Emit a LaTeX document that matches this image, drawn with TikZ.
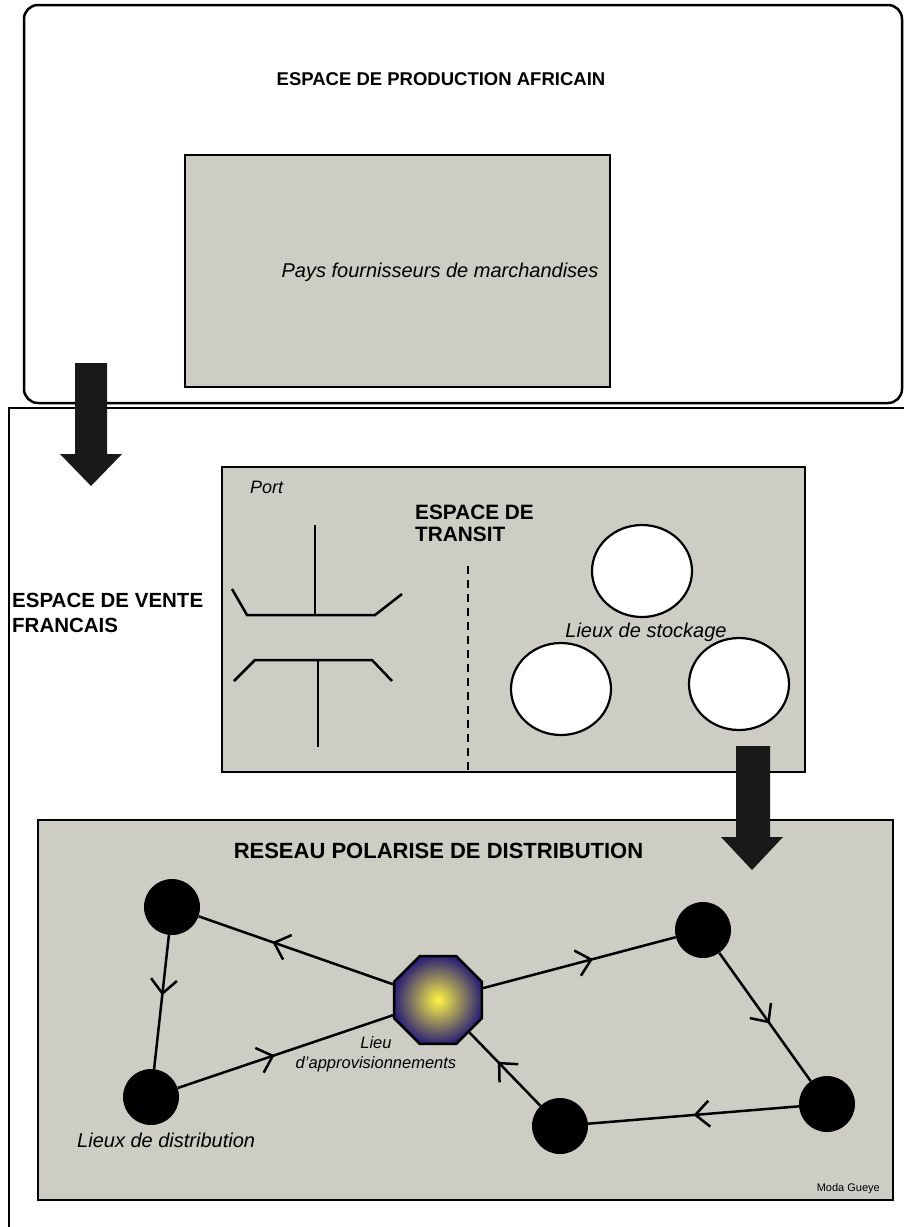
\documentclass[tikz,border=0pt]{standalone}
\usepackage{fontspec}
\setmainfont{Liberation Sans}
\usetikzlibrary{shapes.geometric, arrows.meta, decorations.markings}
\definecolor{panelgrey}{RGB}{205,205,198}
\definecolor{hubblue}{RGB}{45,35,115}
\definecolor{hubyellow}{RGB}{255,245,70}
\tikzset{
    frame/.style={draw, line width=2.5pt},
    panel/.style={draw, line width=2.5pt, fill=panelgrey},
    store/.style={ellipse, draw, line width=2.2pt, fill=white, minimum width=100pt, minimum height=92pt},
    site/.style={circle, fill=black, minimum size=56pt, inner sep=0pt},
    hub/.style={regular polygon, regular polygon sides=8, draw, line width=2.5pt, inner color=hubyellow, outer color=hubblue, minimum size=95pt, inner sep=0pt},
    heading/.style 2 args={font=\bfseries\fontsize{#1}{#2}\selectfont, inner sep=0pt, align=left},
    itlabel/.style={font=\itshape\fontsize{#1}{#1}\selectfont, inner sep=0pt},
    itlabel/.default=20,
    quay/.style={line width=2.5pt},
    flow/.style={line width=2.5pt, postaction={decorate}, decoration={markings, mark=at position #1 with {\arrow{Straight Barb[length=14pt, width=26pt, line width=2.5pt]}}}},
    flow/.default=0.5,
    bigarrow/.style={fill=black!90}
}
\begin{document}
\begin{tikzpicture}[x=1pt, y=-1pt]
        \useasboundingbox (0,0) rectangle (904,1227);
        \clip (0,0) rectangle (904,1227);
        \fill[white] (0,0) rectangle (904,1227);

        % Espace de vente (runs off the page)
        \draw[frame, fill=white] (9,408) rectangle (940,1270);
        \node (Vente_label) [heading={20.5}{25}, anchor=north west] at (12,593) {ESPACE DE VENTE\\FRANCAIS};

        % Espace de production
        \draw[frame, fill=white, rounded corners=14pt] (24,5) rectangle (902,403);
        \node (Prod_label) [heading={18.5}{20}, anchor=north] at (441,72) {ESPACE DE PRODUCTION AFRICAIN};
        \node (Pays) [panel, minimum width=425pt, minimum height=232pt] at (397.5,271) {};
        \node (Pays_label) [itlabel] at (440,272) {Pays fournisseurs de marchandises};

        % Espace de transit
        \node (Transit) [panel, minimum width=583pt, minimum height=305pt] at (513.5,619.5) {};
        \node (Transit_label) [heading={20.8}{22}, anchor=north west] at (415,505) {ESPACE DE\\TRANSIT};
        \node (Port_label) [itlabel=18, anchor=west] at (250,487) {Port};

        % Port quays
        \draw[quay] (315,525) -- (315,615);
        \draw[quay] (232,589) -- (247,615) -- (375,615) -- (402,594);
        \draw[quay] (234,681) -- (255,660) -- (372,660) -- (392,681);
        \draw[quay] (318,660) -- (318,747);
        \draw[quay, dash pattern=on 8pt off 6pt] (468,566) -- (468,772);

        % Lieux de stockage
        \node (Store1) [store] at (642,571) {};
        \node (Store2) [store] at (561,689) {};
        \node (Store3) [store] at (739,684) {};
        \node (Stock_label) [itlabel] at (646,632) {Lieux de stockage};

        % Reseau de distribution
        \node (Reseau) [panel, minimum width=855pt, minimum height=380pt] at (465.5,1010) {};
        \node (Reseau_label) [heading={22}{24}, anchor=north] at (438.5,843) {RESEAU POLARISE DE DISTRIBUTION};
        \node (Credit) [font=\fontsize{11}{11}\selectfont, inner sep=0pt, anchor=east] at (880,1189) {Moda Gueye};

        % Block arrows
        \fill[bigarrow] (75,363) -- (107,363) -- (107,454) -- (122,454) -- (91,486) -- (60,454) -- (75,454) -- cycle;
        \fill[bigarrow] (736,746) -- (770,746) -- (770,837) -- (783,837) -- (752,870) -- (721,837) -- (736,837) -- cycle;

        % Network
        \node (Hub) [hub] at (438,1000) {};
        \node (SiteA) [site] at (172,907) {};
        \node (SiteB) [site] at (151,1097) {};
        \node (SiteC) [site] at (703,930) {};
        \node (SiteD) [site] at (827,1104) {};
        \node (SiteE) [site] at (560,1126) {};
        \node (Hub_label) [align=center, inner sep=0pt, font=\itshape\fontsize{16.5}{20}\selectfont] at (376,1054) {Lieu\\d'approvisionnements};
        \node (Site_label) [itlabel, anchor=west] at (77,1140) {Lieux de distribution};

        \draw[flow=0.62] (Hub) -- (SiteA);
        \draw[flow=0.45] (SiteA) -- (SiteB);
        \draw[flow=0.45] (SiteB) -- (Hub);
        \draw[flow=0.57] (Hub) -- (SiteC);
        \draw[flow=0.55] (SiteC) -- (SiteD);
        \draw[flow=0.5] (SiteD) -- (SiteE);
        \draw[flow=0.6] (SiteE) -- (Hub);
    \end{tikzpicture}
\end{document}
